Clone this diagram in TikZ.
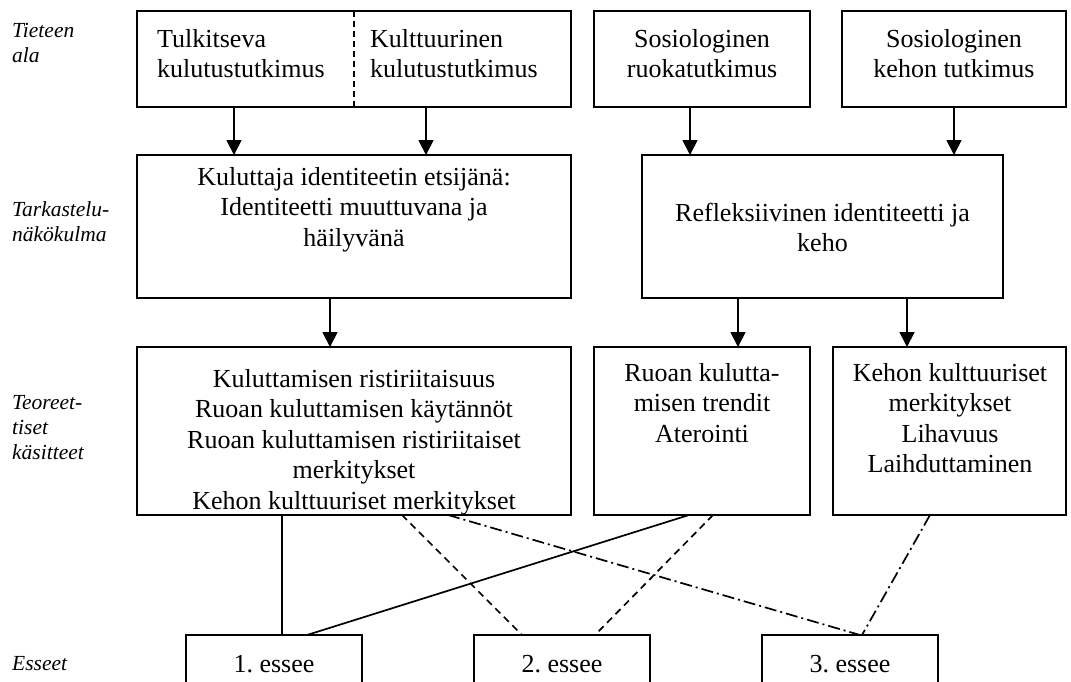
\documentclass[tikz,border=0pt]{standalone}
\usepackage{fontspec}
\setmainfont{Liberation Serif}
\usetikzlibrary{arrows.meta}
\newcommand\mystrut{\rule{0pt}{20pt}}
\newcommand\lblstrut{\rule{0pt}{16.5pt}}
\frenchspacing
\begin{document}
\begin{tikzpicture}[x=1pt,y=-1pt,
 box/.style={draw,line width=1.9pt,inner sep=0pt,outer sep=0pt,anchor=north west},
 txt/.style={inner sep=0pt,anchor=north,align=center,font={\fontsize{26}{30.5}\selectfont}},
 ltxt/.style={inner sep=0pt,anchor=north west,align=left,font={\fontsize{26}{30.5}\selectfont}},
 lbl/.style={inner sep=0pt,anchor=north west,align=left,font={\fontsize{21.5}{25}\selectfont\itshape}},
 arr/.style={line width=1.8pt,-{Triangle[width=15pt,length=15pt]}},
 conn/.style={line width=1.7pt},
 dsh/.style={conn,dash pattern=on 7pt off 5pt},
 dshdot/.style={conn,dash pattern=on 12pt off 4pt on 2pt off 4pt}]
\useasboundingbox (0,0) rectangle (1071,681);
\clip (0,0) rectangle (1071,681);
% boxes
\node[box,minimum width=434pt,minimum height=96pt] (A) at (137,11) {};
\node[box,minimum width=216pt,minimum height=96pt] (B) at (594,11) {};
\node[box,minimum width=224pt,minimum height=96pt] (C) at (842,11) {};
\node[box,minimum width=434pt,minimum height=143pt] (D) at (137,155) {};
\node[box,minimum width=361pt,minimum height=143pt] (E) at (642,155) {};
\node[box,minimum width=434pt,minimum height=168pt] (F) at (137,347) {};
\node[box,minimum width=216pt,minimum height=168pt] (G) at (594,347) {};
\node[box,minimum width=233pt,minimum height=168pt] (H) at (833,347) {};
\node[box,minimum width=176pt,minimum height=70pt] (E1) at (186,635) {};
\node[box,minimum width=176pt,minimum height=70pt] (E2) at (474,635) {};
\node[box,minimum width=176pt,minimum height=70pt] (E3) at (762,635) {};
% divider
\draw[line width=1.4pt,dash pattern=on 6pt off 4pt] ([xshift=217pt]A.north west) -- ([xshift=217pt]A.south west);
% texts
\node[ltxt] (tA1) at (157,27) {\mystrut Tulkitseva\\kulutustutkimus};
\node[ltxt] (tA2) at (370,27) {\mystrut Kulttuurinen\\kulutustutkimus};
\node[txt] (tB) at (702,27) {\mystrut Sosiologinen\\ruokatutkimus};
\node[txt] (tC) at (954,27) {\mystrut Sosiologinen\\kehon tutkimus};
\node[txt] (tD) at (354,165) {\mystrut Kuluttaja identiteetin etsijänä:\\Identiteetti muuttuvana ja\\häilyvänä};
\node[txt] (tE) at (822.5,201) {\mystrut Refleksiivinen identiteetti ja\\keho};
\node[txt] (tF) at (354,367) {\mystrut Kuluttamisen ristiriitaisuus\\Ruoan kuluttamisen käytännöt\\Ruoan kuluttamisen ristiriitaiset\\merkitykset\\Kehon kulttuuriset merkitykset};
\node[txt] (tG) at (702,361) {\mystrut Ruoan kulutta-\\misen trendit\\Aterointi};
\node[txt] (tH) at (950,361) {\mystrut Kehon kulttuuriset\\merkitykset\\Lihavuus\\Laihduttaminen};
\node[txt,anchor=base] (tE1) at (274,672) {1. essee};
\node[txt,anchor=base] (tE2) at (562,672) {2. essee};
\node[txt,anchor=base] (tE3) at (850,672) {3. essee};
% side labels
\node[lbl] (l1) at (12,20.5) {\lblstrut Tieteen\\ala};
\node[lbl] (l2) at (12,199.5) {\lblstrut Tarkastelu-\\näkökulma};
\node[lbl] (l3) at (12,392.5) {\lblstrut Teoreet-\\tiset\\käsitteet};
\node[lbl] (l4) at (12,653.5) {\lblstrut Esseet};
% arrows
\draw[arr] ([xshift=97pt]A.south west) -- ([xshift=97pt]D.north west);
\draw[arr] ([xshift=289pt]A.south west) -- ([xshift=289pt]D.north west);
\draw[arr] ([xshift=96pt]B.south west) -- ([xshift=48pt]E.north west);
\draw[arr] ([xshift=112pt]C.south west) -- ([xshift=312pt]E.north west);
\draw[arr] ([xshift=193pt]D.south west) -- ([xshift=193pt]F.north west);
\draw[arr] ([xshift=96pt]E.south west) -- ([xshift=144pt]G.north west);
\draw[arr] ([xshift=265pt]E.south west) -- ([xshift=74pt]H.north west);
% connectors to essays
\draw[conn] ([xshift=145pt]F.south west) -- ([xshift=96pt]E1.north west);
\draw[conn] ([xshift=95pt]G.south west) -- ([xshift=121pt]E1.north west);
\draw[dsh] ([xshift=265pt]F.south west) -- ([xshift=48pt]E2.north west);
\draw[dsh] ([xshift=119pt]G.south west) -- ([xshift=121pt]E2.north west);
\draw[dshdot] ([xshift=311pt]F.south west) -- ([xshift=98pt]E3.north west);
\draw[dshdot] ([xshift=97pt]H.south west) -- ([xshift=100pt]E3.north west);
\end{tikzpicture}
\end{document}
